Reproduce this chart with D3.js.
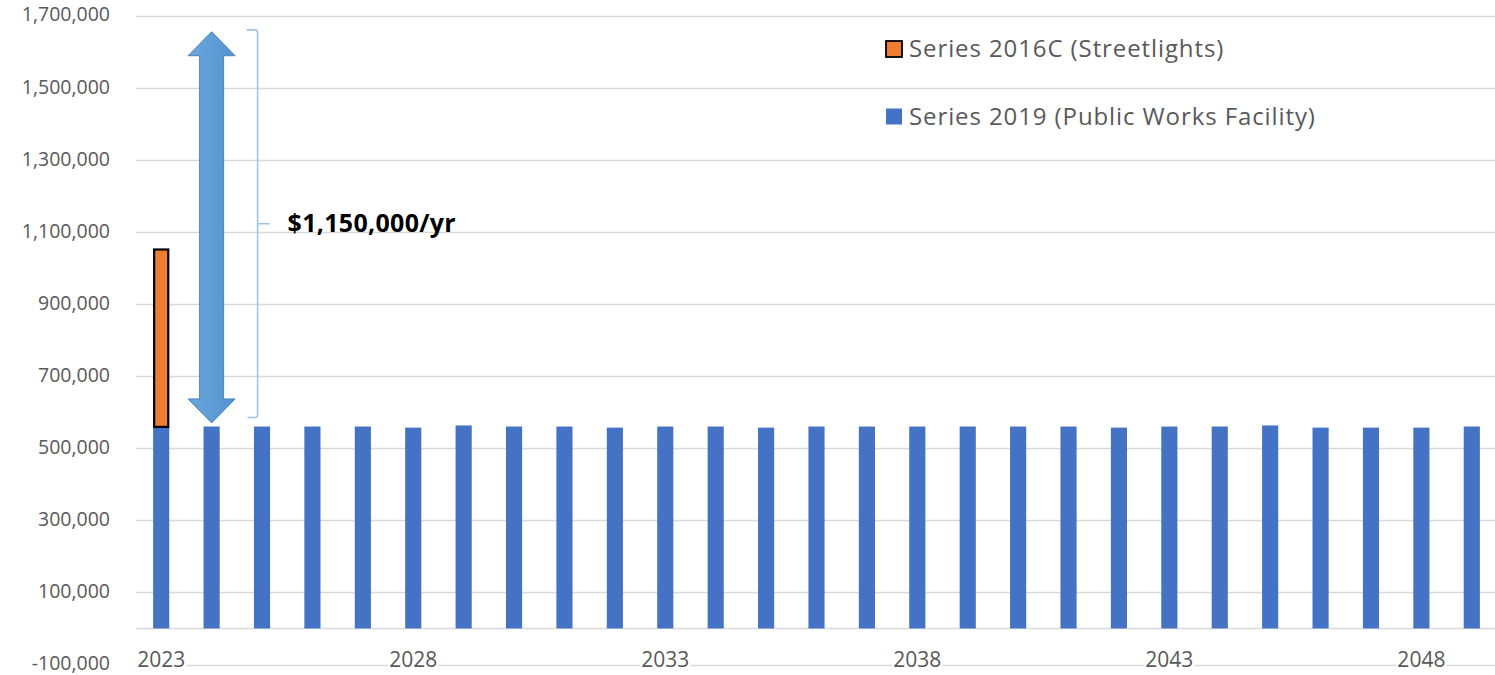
<!DOCTYPE html>
<html>
<head>
<meta charset="utf-8">
<script src="https://cdn.jsdelivr.net/npm/d3@7"></script>
<style>
  html, body { margin: 0; padding: 0; background: #ffffff; }
  svg { display: block; }
  text { font-family: "Open Sans", "Noto Sans", sans-serif; }
</style>
</head>
<body>
<svg id="chart" width="1495" height="675"></svg>
<script>
// Fiscal years shown on the category axis
const years = d3.range(2023, 2050);
const yearLabels = [2023, 2028, 2033, 2038, 2043, 2048];

// Annual debt service, Series 2019 (Public Works Facility)
const series2019 = [
  559000, 560000, 560000, 560000, 560000, 557000, 563000, 560000, 560000,
  557000, 560000, 560000, 557000, 560000, 560000, 560000, 560000, 560000,
  560000, 557000, 560000, 560000, 563000, 557000, 557000, 557000, 560000
];

// Series 2016C (Streetlights) – final payment year only
const series2016CYears = [2023];
const series2016C = [492000];

// Value axis ticks
const yTicks = d3.range(-100000, 1700001, 200000);

// Annotation: combined annual payment range
const combinedLabel = "$1,150,000/yr";
const arrowRange = [570000, 1655000];
const braceRange = [585000, 1660000];

const legendItems = [
  { name: "Series 2016C (Streetlights)", color: "#ED7D31", outline: "#000000" },
  { name: "Series 2019 (Public Works Facility)", color: "#4472C4", outline: null }
];

const svg = d3.select("#chart");
const plotLeft = 136, plotRight = 1497;

const x = d3.scaleBand()
  .domain(years)
  .range([plotLeft, plotRight])
  .paddingInner(0.68)
  .paddingOuter(0.34);

const y = d3.scaleLinear()
  .domain([-100000, 1700000])
  .range([664.5, 15.5]);

const fmt = d3.formatLocale({
  decimal: ".", thousands: ",", grouping: [3], currency: ["$", ""], minus: "-"
}).format(",");

// Horizontal gridlines
svg.append("g")
  .selectAll("line")
  .data(yTicks)
  .join("line")
  .attr("x1", plotLeft)
  .attr("x2", 1495)
  .attr("y1", d => Math.round(y(d)) + 0.5)
  .attr("y2", d => Math.round(y(d)) + 0.5)
  .attr("stroke", "#D9D9D9")
  .attr("stroke-width", 1.3);

// Category axis line at zero
svg.append("line")
  .attr("x1", plotLeft)
  .attr("x2", 1495)
  .attr("y1", Math.round(y(0)) + 0.5)
  .attr("y2", Math.round(y(0)) + 0.5)
  .attr("stroke", "#D9D9D9")
  .attr("stroke-width", 1.3);

// Value axis labels
const yAxis = svg.append("g")
  .attr("transform", `translate(${plotLeft},0)`)
  .call(d3.axisLeft(y).tickValues(yTicks).tickFormat(fmt).tickSize(0).tickPadding(26));
yAxis.select(".domain").remove();
yAxis.selectAll("text")
  .attr("dy", "0.28em")
  .attr("fill", "#595959")
  .style("font-size", "19.5px")
  .style("font-family", "'Open Sans', sans-serif");

// Series 2019 bars
svg.append("g")
  .selectAll("rect")
  .data(years.map((yr, i) => ({ yr, v: series2019[i] })))
  .join("rect")
  .attr("x", d => x(d.yr))
  .attr("width", x.bandwidth())
  .attr("y", d => y(d.v))
  .attr("height", d => y(0) - y(d.v))
  .attr("fill", "#4472C4");

// Series 2016C bars, stacked on top of Series 2019
svg.append("g")
  .selectAll("rect")
  .data(series2016CYears.map((yr, i) => {
    const base = series2019[years.indexOf(yr)];
    return { yr, base, top: base + series2016C[i] };
  }))
  .join("rect")
  .attr("x", d => x(d.yr) + 1)
  .attr("width", x.bandwidth() - 2)
  .attr("y", d => y(d.top))
  .attr("height", d => y(d.base) - y(d.top))
  .attr("fill", "#ED7D31")
  .attr("stroke", "#000000")
  .attr("stroke-width", 2.2);

// Double-headed arrow spanning the combined payment
{
  const cx = x(2024) + x.bandwidth() / 2;
  const yt = y(arrowRange[1]), yb = y(arrowRange[0]);
  const headH = 24, headW = 23.5, shaftW = 12;
  const pts = [
    [cx, yt], [cx + headW, yt + headH], [cx + shaftW, yt + headH],
    [cx + shaftW, yb - headH], [cx + headW, yb - headH], [cx, yb],
    [cx - headW, yb - headH], [cx - shaftW, yb - headH],
    [cx - shaftW, yt + headH], [cx - headW, yt + headH]
  ];
  const grad = svg.append("defs").append("linearGradient")
    .attr("id", "arrowFill").attr("x1", "0").attr("x2", "1").attr("y1", "0").attr("y2", "0");
  grad.append("stop").attr("offset", "0").attr("stop-color", "#6AA6DC");
  grad.append("stop").attr("offset", "1").attr("stop-color", "#5393D0");
  svg.append("path")
    .attr("d", d3.line()(pts) + "Z")
    .attr("fill", "url(#arrowFill)")
    .attr("stroke", "#4A84BE")
    .attr("stroke-width", 1);
}

// Right brace with the combined amount
{
  const bx = x(2024) + x.bandwidth() / 2 + 46;
  const yt = y(braceRange[1]), yb = y(braceRange[0]);
  const ym = (yt + yb) / 2;
  const p = d3.path();
  p.moveTo(bx - 11, yt);
  p.lineTo(bx - 3, yt);
  p.quadraticCurveTo(bx, yt, bx, yt + 3);
  p.lineTo(bx, yb - 3);
  p.quadraticCurveTo(bx, yb, bx - 3, yb);
  p.lineTo(bx - 10, yb);
  p.moveTo(bx, ym);
  p.lineTo(bx + 12, ym);
  svg.append("path")
    .attr("d", p.toString())
    .attr("fill", "none")
    .attr("stroke", "#9DC3E6")
    .attr("stroke-width", 1.6);

  svg.append("text")
    .attr("x", bx + 30)
    .attr("y", ym)
    .attr("dy", "0.35em")
    .attr("fill", "#000000")
    .style("font-size", "25px")
    .style("letter-spacing", "0.3px")
    .style("font-weight", "bold")
    .text(combinedLabel);
}

// Category axis labels (drawn over the bottom gridline)
const xAxis = svg.append("g")
  .attr("transform", "translate(0,660)")
  .call(d3.axisBottom(x).tickValues(yearLabels).tickSize(0).tickPadding(0));
xAxis.select(".domain").remove();
xAxis.selectAll("text")
  .attr("y", 0)
  .attr("dy", "0.35em")
  .attr("fill", "#595959")
  .style("font-size", "21px")
  .style("font-family", "'Open Sans', sans-serif");
xAxis.selectAll(".tick").each(function () {
  const t = d3.select(this).select("text");
  const b = t.node().getBBox();
  d3.select(this).insert("rect", "text")
    .attr("x", b.x - 1).attr("y", b.y)
    .attr("width", b.width + 2).attr("height", b.height)
    .attr("fill", "#ffffff");
});

// Legend
const legend = svg.append("g").attr("transform", "translate(885,0)");
legendItems.forEach((d, i) => {
  const cy = 49 + i * 67.5;
  legend.append("rect")
    .attr("x", 1).attr("y", cy - 8)
    .attr("width", 16).attr("height", 16)
    .attr("fill", d.color)
    .attr("stroke", d.outline || "none")
    .attr("stroke-width", 1.8);
  legend.append("text")
    .attr("x", 24).attr("y", cy)
    .attr("dy", "0.35em")
    .attr("fill", "#595959")
    .style("font-size", "24px")
    .style("letter-spacing", "0.9px")
    .text(d.name);
});
</script>
</body>
</html>
